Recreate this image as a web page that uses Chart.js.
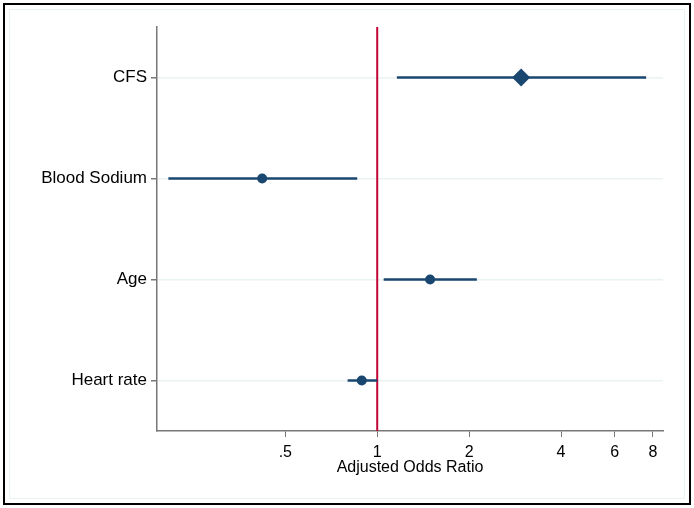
<!DOCTYPE html>
<html>
<head>
<meta charset="utf-8">
<script src="https://cdn.jsdelivr.net/npm/chart.js@4"></script>
<style>
  html, body { margin: 0; padding: 0; background: #fff; }
  #wrap { width: 694px; height: 508px; }
</style>
</head>
<body>
<div id="wrap"><canvas id="forest"></canvas></div>
<script>
// rows from bottom (y=1) to top (y=4)
var variables = ["Heart rate", "Age", "Blood Sodium", "CFS"];
var oddsRatio = [0.89, 1.49, 0.42, 2.96];
var ciLow = [0.80, 1.05, 0.207, 1.16];
var ciHigh = [1.00, 2.12, 0.86, 7.6];
var markers = ["circle", "circle", "circle", "rectRot"];
var xTicks = [0.5, 1, 2, 4, 6, 8];
var xTickLabels = [".5", "1", "2", "4", "6", "8"];

var navy = "#1a476f";
var datasets = [];

variables.forEach(function (v, i) {
  datasets.push({
    data: [{ x: ciLow[i], y: i + 1 }, { x: ciHigh[i], y: i + 1 }],
    showLine: true,
    borderColor: navy,
    borderWidth: 2.5,
    pointRadius: 0,
    order: 2
  });
});

// reference line at OR = 1
datasets.push({
  data: [{ x: 1, y: 0.5 }, { x: 1, y: 4.5 }],
  showLine: true,
  borderColor: "#c10534",
  borderWidth: 2,
  pointRadius: 0,
  order: 3
});

datasets.push({
  data: oddsRatio.map(function (o, i) { return { x: o, y: i + 1 }; }),
  pointStyle: markers,
  pointRadius: markers.map(function (m) { return m == "rectRot" ? 9 : 5; }),
  backgroundColor: navy,
  borderColor: navy,
  borderWidth: 0,
  order: 1
});

var frame = {
  id: "frame",
  afterDraw: function (chart) {
    var c = chart.ctx;
    c.save();
    c.strokeStyle = "#eaf2f3";
    c.lineWidth = 1;
    c.strokeRect(9.5, 9.5, 675, 489);
    c.strokeStyle = "#000";
    c.lineWidth = 2;
    c.strokeRect(4, 4, 686, 500);
    c.restore();
  }
};

new Chart("forest", {
  type: "scatter",
  data: { datasets: datasets },
  plugins: [frame],
  options: {
    responsive: true,
    maintainAspectRatio: false,
    animation: false,
    layout: { padding: { left: 0, right: 31, top: 27, bottom: 31 } },
    plugins: {
      legend: { display: false },
      tooltip: { enabled: false }
    },
    scales: {
      x: {
        type: "logarithmic",
        min: 0.19,
        max: 8.63,
        afterBuildTicks: function (s) {
          s.ticks = xTicks.map(function (t) { return { value: t }; });
        },
        afterFit: function (s) { s.height = 46; },
        ticks: {
          autoSkip: false,
          maxRotation: 0,
          color: "#000",
          font: { family: "Liberation Sans, Arial", size: 16 },
          padding: 6,
          callback: function (val) {
            var k = xTicks.indexOf(val);
            return k >= 0 ? xTickLabels[k] : "";
          }
        },
        grid: { drawOnChartArea: false, drawTicks: true, tickLength: 6, color: "#777" },
        border: { color: "#777", width: 1.5 },
        title: {
          display: true,
          text: "Adjusted Odds Ratio",
          color: "#000",
          font: { family: "Liberation Sans, Arial", size: 16 },
          padding: { top: 0, bottom: 0 }
        }
      },
      y: {
        min: 0.5,
        max: 4.5,
        afterBuildTicks: function (s) {
          s.ticks = [1, 2, 3, 4].map(function (t) { return { value: t }; });
        },
        afterFit: function (s) { s.width = 157; },
        ticks: {
          color: "#000",
          font: { family: "Liberation Sans, Arial", size: 17 },
          padding: 4,
          callback: function (val) { return variables[val - 1]; }
        },
        grid: {
          color: "#eaf2f3",
          lineWidth: 1.5,
          tickColor: "#777",
          tickLength: 6
        },
        border: { color: "#777", width: 1.5 }
      }
    }
  }
});
</script>
</body>
</html>
